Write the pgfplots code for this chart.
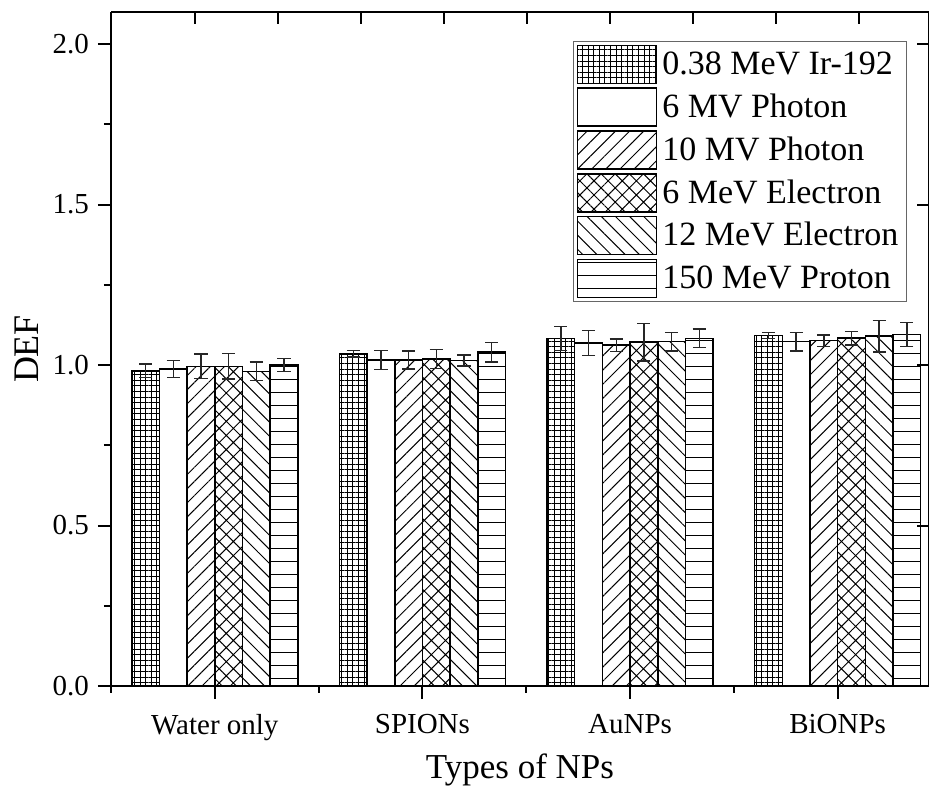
\documentclass[border=0pt]{standalone}
\usepackage{fontspec}
\setmainfont{Liberation Serif}
\usepackage{pgfplots}
\usepackage{pgfplotstable}
\pgfplotsset{compat=1.18}
\usetikzlibrary{patterns, patterns.meta}

% horizontal lines with overlapping tiles (no gaps)
\pgfdeclarepatternformonly{hlines wide}{\pgfqpoint{-1pt}{-1pt}}{\pgfqpoint{7.5pt}{7.5pt}}{\pgfqpoint{6.5pt}{6.5pt}}{%
  \pgfsetlinewidth{0.5pt}
  \pgfpathmoveto{\pgfqpoint{-1pt}{3pt}}
  \pgfpathlineto{\pgfqpoint{7.5pt}{3pt}}
  \pgfusepath{stroke}}

% DEF per beam, with error (half-width)
\pgfplotstableread{
x  ir     ire    mvs    mvse   mvt    mvte   els    else   elt    elte   pro    proe
1  0.982  0.021  0.988  0.026  0.996  0.038  0.996  0.040  0.980  0.029  1.000  0.020
2  1.035  0.010  1.016  0.029  1.016  0.028  1.019  0.029  1.014  0.017  1.040  0.030
3  1.083  0.037  1.069  0.039  1.062  0.019  1.071  0.059  1.073  0.029  1.083  0.029
4  1.092  0.009  1.073  0.029  1.076  0.018  1.084  0.021  1.090  0.049  1.095  0.038
}\deftable

\pgfplotsset{
    errb/.style={
        error bars/y dir=both, error bars/y explicit,
        error bars/error bar style={line width=0.7pt, black!85},
        error bars/error mark options={rotate=90, mark size=3.3pt, line width=0.7pt, black!85},
    },
}

\begin{document}
\begin{tikzpicture}
\begin{axis}[
    name=ax,
    width=409pt, height=337pt, scale only axis,
    xmin=0.5, xmax=4.44, ymin=0, ymax=2.1,
    ybar=0pt, bar width=0.1333,
    axis x line*=bottom, axis y line*=left,
    axis line style={line width=1pt, black},
    tick style={line width=1pt, black},
    tick align=outside,
    major tick length=6.5pt, minor tick length=3.5pt,
    xtick={1,2,3,4},
    xticklabels={Water only, SPIONs, AuNPs, BiONPs},
    minor xtick={0.5,1.5,2.5,3.5},
    ytick={0,0.5,1,1.5,2},
    minor ytick={0.25,0.75,1.25,1.75},
    /pgf/number format/fixed, /pgf/number format/fixed zerofill,
    /pgf/number format/precision=1,
    /pgf/number format/assume math mode=true,
    tick label style={font=\fontsize{14.5pt}{17pt}\selectfont},
    xticklabel style={yshift=-4pt},
    yticklabel style={xshift=-1pt},
    xlabel={Types of NPs}, ylabel={DEF},
    xlabel style={font=\fontsize{17.5pt}{20pt}\selectfont},
    ylabel style={font=\fontsize{18pt}{20pt}\selectfont},
    legend style={at={(0.973,0.957)}, anchor=north east, draw=black!60,
        line width=0.6pt, font=\fontsize{17pt}{20pt}\selectfont,
        row sep=1.6pt, inner sep=1.5pt,
        nodes={inner sep=1pt, inner xsep=2.5pt}},
    legend cell align=left,
    legend image code/.code={\draw[#1, line width=0.8pt] (0pt,-9.5pt) rectangle (39.5pt,9.5pt);},
]
\addplot[errb, draw=black, line width=0.8pt, pattern={Hatch[angle=0, distance=2.8pt, line width=0.4pt]}]
    table[x=x, y=ir, y error=ire] {\deftable};
\addplot[errb, draw=black, line width=0.8pt, fill=white]
    table[x=x, y=mvs, y error=mvse] {\deftable};
\addplot[errb, draw=black, line width=0.8pt, pattern={Lines[angle=45, distance=5pt, line width=0.5pt]}]
    table[x=x, y=mvt, y error=mvte] {\deftable};
\addplot[errb, draw=black, line width=0.8pt, pattern={Hatch[angle=45, distance=5pt, line width=0.5pt]}]
    table[x=x, y=els, y error=else] {\deftable};
\addplot[errb, draw=black, line width=0.8pt, pattern={Lines[angle=-45, distance=5pt, line width=0.5pt]}]
    table[x=x, y=elt, y error=elte] {\deftable};
\addplot[errb, draw=black, line width=0.8pt, pattern=hlines wide]
    table[x=x, y=pro, y error=proe] {\deftable};
\legend{0.38 MeV Ir-192, 6 MV Photon, 10 MV Photon, 6 MeV Electron, 12 MeV Electron, 150 MeV Proton}
\end{axis}
% top and right ticks
\begin{axis}[
    width=409pt, height=337pt, scale only axis,
    xmin=0.5, xmax=4.44, ymin=0, ymax=2.1,
    axis x line*=top, axis y line*=right,
    axis line style={line width=1pt, black},
    tick style={line width=1pt, black},
    tick align=inside, major tick length=6pt,
    xtick={0.905,1.305,1.705,2.105,2.505,2.905,3.305,3.705,4.105},
    ytick={0,0.5,1,1.5,2},
    xticklabels={}, yticklabels={},
]
\end{axis}
\pgfresetboundingbox
\path ([shift={(-55.5pt,-51.5pt)}]ax.south west) rectangle ([shift={(0pt,6pt)}]ax.north east);
\end{tikzpicture}
\end{document}
